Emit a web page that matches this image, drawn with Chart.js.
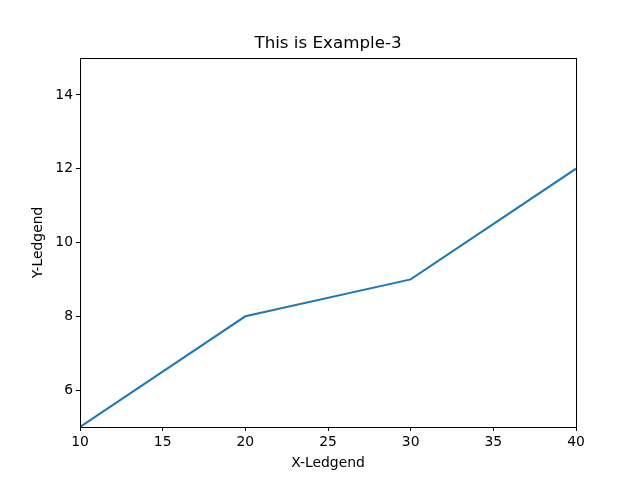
<!DOCTYPE html>
<html>
<head>
<meta charset="utf-8">
<script src="https://cdn.jsdelivr.net/npm/chart.js@4/dist/chart.umd.min.js"></script>
<style>
  html, body { margin: 0; padding: 0; background: #fff; }
  #wrap { width: 640px; height: 480px; }
</style>
</head>
<body>
<div id="wrap"><canvas id="lineChart" width="640" height="480"></canvas></div>
<script>
// values
const xValues = [10, 20, 30, 40];
const yValues = [5, 8, 9, 12];
const xTicks = [10, 15, 20, 25, 30, 35, 40];
const yTicks = [6, 8, 10, 12, 14];

const titleText = 'This is Example-3';
const fontFamily = '"DejaVu Sans", sans-serif';

// frame round the plot area plus the title, like matplotlib does it
const framePlugin = {
    id: 'frame',
    afterDraw(chart) {
        const ctx = chart.ctx;
        const a = chart.chartArea;
        ctx.save();
        ctx.strokeStyle = '#000';
        ctx.lineWidth = 1;
        ctx.strokeRect(Math.round(a.left) + 0.5, Math.round(a.top) + 0.5,
            Math.round(a.right - a.left), Math.round(a.bottom - a.top));
        ctx.fillStyle = '#000';
        ctx.font = '16.7px ' + fontFamily;
        ctx.textAlign = 'center';
        ctx.textBaseline = 'bottom';
        ctx.fillText(titleText, (a.left + a.right) / 2, a.top - 6);
        ctx.restore();
    }
};

new Chart(document.getElementById('lineChart').getContext('2d'), {
    type: 'line',
    data: {
        datasets: [{
            data: xValues.map((x, i) => ({ x: x, y: yValues[i] })),
            borderColor: '#1f77b4',
            borderWidth: 2,
            pointRadius: 0,
            fill: false,
            tension: 0
        }]
    },
    options: {
        responsive: false,
        animation: false,
        devicePixelRatio: 1,
        layout: { padding: { top: 58, right: 64, left: 0, bottom: 0 } },
        plugins: {
            legend: { display: false },
            tooltip: { enabled: false }
        },
        scales: {
            x: {
                type: 'linear',
                min: 10,
                max: 40,
                afterBuildTicks: scale => { scale.ticks = xTicks.map(v => ({ value: v })); },
                afterFit: scale => { scale.height = 53; },
                grid: { drawOnChartArea: false, tickLength: 4, color: '#000' },
                border: { display: false },
                ticks: { color: '#000', padding: 3, maxRotation: 0, font: { family: fontFamily, size: 13.9 } },
                title: { display: true, text: 'X-Ledgend', color: '#000', padding: { top: 0, bottom: 8 }, font: { family: fontFamily, size: 13.9 } }
            },
            y: {
                type: 'linear',
                min: 5,
                max: 15,
                afterBuildTicks: scale => { scale.ticks = yTicks.map(v => ({ value: v })); },
                afterFit: scale => { scale.width = 80; },
                grid: { drawOnChartArea: false, tickLength: 4, color: '#000' },
                border: { display: false },
                ticks: { color: '#000', padding: 3, font: { family: fontFamily, size: 13.9 } },
                title: { display: true, text: 'Y-Ledgend', color: '#000', padding: { top: 30, bottom: 0 }, font: { family: fontFamily, size: 13.9 } }
            }
        }
    },
    plugins: [framePlugin]
});
</script>
</body>
</html>
